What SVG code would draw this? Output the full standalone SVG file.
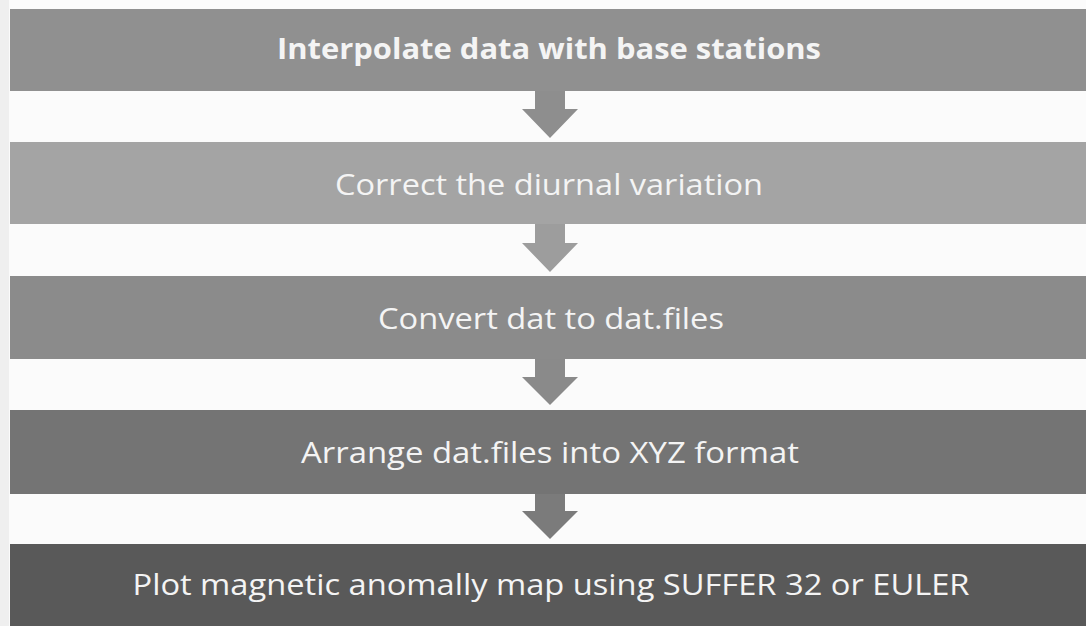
<svg xmlns="http://www.w3.org/2000/svg" width="1086" height="626" viewBox="0 0 1086 626">
<style>
.lbl{font-family:"Open Sans","Liberation Sans",sans-serif;font-size:29px;fill:#f4f4f4;text-anchor:middle}
.b{font-weight:bold}
</style>
<rect x="0" y="0" width="1086" height="626" fill="#fbfbfb"/>
<rect x="0" y="0" width="9" height="626" fill="#efefef"/>
<g id="connectors">
<path d="M535 90 H565 V109 H578 L550 138 L522 109 H535 Z" fill="#8e8e8e"/>
<path d="M535 223 H565 V243 H578 L550 272 L522 243 H535 Z" fill="#9d9d9d"/>
<path d="M535 358 H565 V377 H578 L550 405 L522 377 H535 Z" fill="#8a8a8a"/>
<path d="M535 493 H565 V511 H578 L550 539 L522 511 H535 Z" fill="#7b7b7b"/>
</g>
<g id="n1"><rect x="10" y="9" width="1076" height="82" fill="#909090"/><text class="lbl b" x="549" y="59" textLength="544" lengthAdjust="spacingAndGlyphs">Interpolate data with base stations</text></g>
<g id="n2"><rect x="10" y="142" width="1076" height="82" fill="#a4a4a4"/><text class="lbl" x="549" y="195" textLength="428" lengthAdjust="spacingAndGlyphs">Correct the diurnal variation</text></g>
<g id="n3"><rect x="10" y="276" width="1076" height="83" fill="#8b8b8b"/><text class="lbl" x="551" y="329" textLength="346" lengthAdjust="spacingAndGlyphs">Convert dat to dat.files</text></g>
<g id="n4"><rect x="10" y="410" width="1076" height="84" fill="#747474"/><text class="lbl" x="550" y="463" textLength="498" lengthAdjust="spacingAndGlyphs">Arrange dat.files into XYZ format</text></g>
<g id="n5"><rect x="10" y="544" width="1076" height="82" fill="#595959"/><text class="lbl" x="551" y="595" textLength="837" lengthAdjust="spacingAndGlyphs">Plot magnetic anomally map using SUFFER 32 or EULER</text></g>
</svg>
